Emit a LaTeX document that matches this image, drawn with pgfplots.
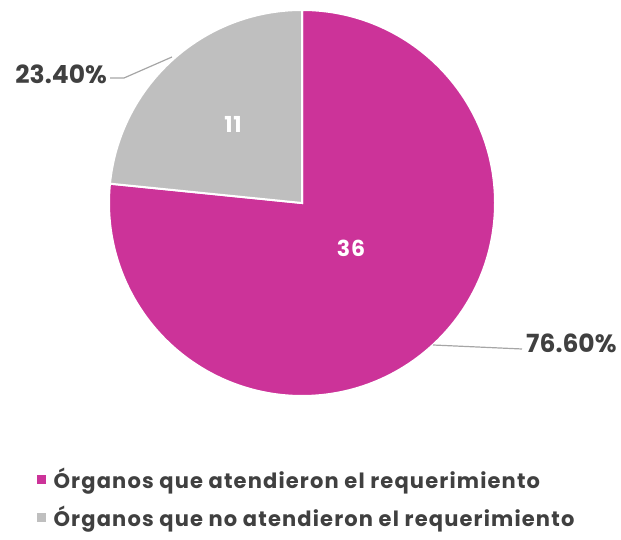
\documentclass[border=0pt]{standalone}
\usepackage{pgfplots}
\usepackage{pgfplotstable}
\pgfplotsset{compat=1.18}
\usepackage{fontspec}
\setmainfont{Poppins}
\newfontfamily\cg[LetterSpace=4]{Poppins}
\newfontfamily\cgl[LetterSpace=5.5]{Poppins}
\definecolor{mag}{HTML}{CC3399}
\definecolor{gry}{HTML}{BFBFBF}
\definecolor{txt}{HTML}{404040}
\definecolor{lead}{HTML}{A6A6A6}
\pgfplotstableread{
value pct
36 76.60
11 23.40
}\piedata
\pgfplotstablegetelem{0}{value}\of\piedata \let\va\pgfplotsretval
\pgfplotstablegetelem{1}{value}\of\piedata \let\vb\pgfplotsretval
\pgfplotstablegetelem{0}{pct}\of\piedata \let\pa\pgfplotsretval
\pgfplotstablegetelem{1}{pct}\of\piedata \let\pb\pgfplotsretval
\pgfmathsetmacro{\total}{\va+\vb}
\pgfmathsetmacro{\aend}{90-360*\va/\total}
\begin{document}
\begin{tikzpicture}
\begin{axis}[
  at={(0,0)}, anchor=south west, x=1pt, y=1pt,
  xmin=0, xmax=621, ymin=0, ymax=540,
  hide axis, clip=false, scale only axis,
  legend style={at={(axis cs:33,74)}, anchor=north west, draw=none, fill=none,
    font=\cgl\bfseries\fontsize{21}{25}\selectfont, text=txt,
    row sep=12pt, inner xsep=0pt, inner ysep=0pt},
  legend cell align=left,
]
\addlegendimage{legend image code/.code={\fill[mag] (4pt,-4pt) rectangle (12pt,4pt); \path (0pt,0pt) (18pt,0pt);}}
\addlegendentry{Órganos que atendieron el requerimiento}
\addlegendimage{legend image code/.code={\fill[gry] (4pt,-4pt) rectangle (12pt,4pt); \path (0pt,0pt) (18pt,0pt);}}
\addlegendentry{Órganos que no atendieron el requerimiento}
\fill[mag, draw=white, line width=2pt] (axis cs:302,337) -- ++(90:193pt) arc[start angle=90, end angle=\aend, radius=193pt] -- cycle;
\fill[gry, draw=white, line width=2pt] (axis cs:302,337) -- ++(\aend:193pt) arc[start angle=\aend, end angle=-270, radius=193pt] -- cycle;
\node[text=white, font=\cg\bfseries\fontsize{22}{26}\selectfont] at (axis cs:351,292) {\va};
\node[text=white, font=\cg\bfseries\fontsize{22}{26}\selectfont] at (axis cs:233,416) {\vb};
\draw[lead, line width=1.2pt] (axis cs:172,483) -- (axis cs:124,462) -- (axis cs:110,462);
\node[text=txt, font=\bfseries\fontsize{25}{29}\selectfont, anchor=east, inner xsep=1pt] at (axis cs:108,466) {\pb\%};
\draw[lead, line width=1.2pt] (axis cs:433,195) -- (axis cs:522,191);
\node[text=txt, font=\bfseries\fontsize{25}{29}\selectfont, anchor=west, inner xsep=1pt] at (axis cs:525,197) {\pa\%};
\end{axis}
\useasboundingbox (0,0) rectangle (621pt,540pt);
\end{tikzpicture}
\end{document}
